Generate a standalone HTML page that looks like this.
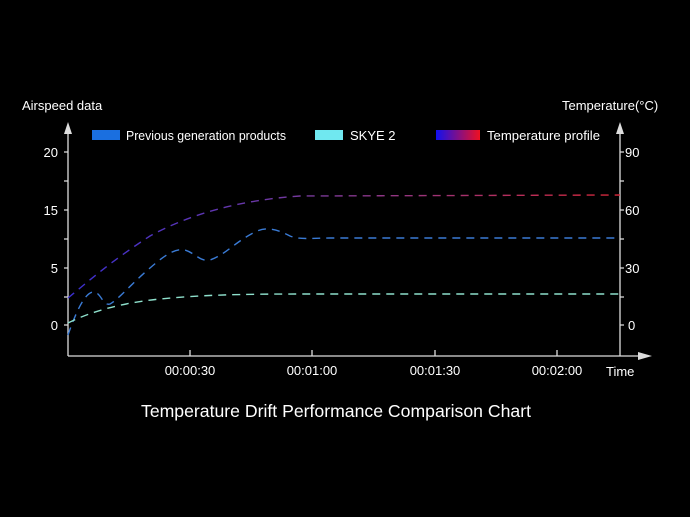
<!DOCTYPE html>
<html><head><meta charset="utf-8"><style>
html,body{margin:0;padding:0;background:#000;}
svg{display:block;font-family:"Liberation Sans",sans-serif;}
</style></head><body>
<svg width="690" height="517" viewBox="0 0 690 517" xmlns="http://www.w3.org/2000/svg">
<defs>
<linearGradient id="tg" x1="68" y1="0" x2="620" y2="0" gradientUnits="userSpaceOnUse">
<stop offset="0" stop-color="#3a2fd0"/><stop offset="0.45" stop-color="#7a3a9a"/><stop offset="1" stop-color="#d8283a"/>
</linearGradient>
<linearGradient id="lg" x1="0" y1="0" x2="1" y2="0">
<stop offset="0" stop-color="#1010f0"/><stop offset="1" stop-color="#f01020"/>
</linearGradient>
</defs>
<rect width="690" height="517" fill="#000"/>
<g fill="#fff" font-size="13">
<text x="22" y="110">Airspeed data</text>
<text x="562" y="110">Temperature(°C)</text>
<text x="58" y="157" text-anchor="end">20</text>
<text x="58" y="215" text-anchor="end">15</text>
<text x="58" y="273" text-anchor="end">5</text>
<text x="58" y="330" text-anchor="end">0</text>
<text x="625" y="157">90</text>
<text x="625" y="215">60</text>
<text x="625" y="273">30</text>
<text x="628" y="330">0</text>
<text x="190" y="375" text-anchor="middle">00:00:30</text>
<text x="312" y="375" text-anchor="middle">00:01:00</text>
<text x="435" y="375" text-anchor="middle">00:01:30</text>
<text x="557" y="375" text-anchor="middle">00:02:00</text>
<text x="606" y="376">Time</text>
<text x="126" y="140" textLength="160" lengthAdjust="spacingAndGlyphs">Previous generation products</text>
<text x="350" y="140">SKYE 2</text>
<text x="487" y="140" textLength="113" lengthAdjust="spacingAndGlyphs">Temperature profile</text>
<text x="336" y="417" text-anchor="middle" font-size="17.5" textLength="390" lengthAdjust="spacingAndGlyphs">Temperature Drift Performance Comparison Chart</text>
</g>
<rect x="92" y="130" width="28" height="10" fill="#1a6fe0"/>
<rect x="315" y="130" width="28" height="10" fill="#70e8f0"/>
<rect x="436" y="130" width="44" height="10" fill="url(#lg)"/>
<g stroke="#ddd" stroke-width="1.3" fill="none">
<line x1="68" y1="132" x2="68" y2="356"/>
<line x1="620" y1="132" x2="620" y2="356"/>
<line x1="68" y1="356" x2="640" y2="356"/>
<path d="M64 152h4M64 181h4M64 210h4M64 239h4M64 268h4M64 297h4M64 325h4"/>
<path d="M620 152h4M620 181h4M620 210h4M620 239h4M620 268h4M620 297h4M620 325h4"/>
<path d="M190 356v-6M312 356v-6M435 356v-6M557 356v-6"/>
</g>
<g fill="#ddd">
<polygon points="68,122 64,134 72,134"/>
<polygon points="620,122 616,134 624,134"/>
<polygon points="652,356 638,352 638,360"/>
</g>
<g fill="none" stroke-width="1.4" stroke-dasharray="8,6">
<path d="M68 298 C90 280,110 262,150 236 C190 214,240 200,300 196 L620 195" stroke="url(#tg)"/>
<path d="M68 335 C75 315,85 290,95 292 C102 295,103 306,110 304 C120 298,130 285,150 268 C165 255,175 248,185 250 C195 253,200 262,210 260 C225 255,235 242,255 232 C265 227,275 228,290 236 C300 240,310 238,330 238 L620 238" stroke="#3a7bd5"/>
<path d="M68 323 C90 312,120 303,160 299 C200 295,240 294,300 294 L620 294" stroke="#8ee0cc"/>
</g>
</svg>
</body></html>
